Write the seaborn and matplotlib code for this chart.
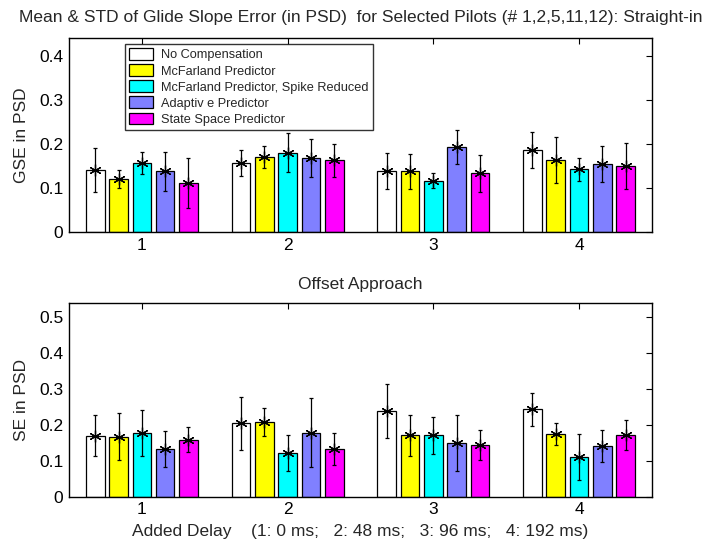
import numpy as np
import pandas as pd
import matplotlib
matplotlib.use("Agg")
import matplotlib.pyplot as plt
import seaborn as sns

groups = ["1", "2", "3", "4"]
methods = ["No Compensation", "McFarland Predictor", "McFarland Predictor, Spike Reduced",
           "Adaptiv e Predictor", "State Space Predictor"]
colors = ["#ffffff", "#ffff00", "#00ffff", "#8080ff", "#ff00ff"]

# Straight-in (rows: methods, cols: delay groups)
si_mean = [[0.141, 0.157, 0.138, 0.187],
           [0.121, 0.171, 0.138, 0.163],
           [0.156, 0.180, 0.117, 0.142],
           [0.138, 0.168, 0.193, 0.154],
           [0.111, 0.163, 0.133, 0.150]]
si_std = [[0.050, 0.030, 0.041, 0.041],
          [0.020, 0.025, 0.040, 0.052],
          [0.025, 0.044, 0.018, 0.027],
          [0.044, 0.044, 0.038, 0.041],
          [0.057, 0.038, 0.041, 0.053]]
# Offset approach
of_mean = [[0.170, 0.204, 0.238, 0.243],
           [0.167, 0.208, 0.171, 0.175],
           [0.178, 0.122, 0.171, 0.111],
           [0.133, 0.178, 0.149, 0.141],
           [0.159, 0.133, 0.145, 0.171]]
of_std = [[0.058, 0.073, 0.075, 0.045],
          [0.065, 0.038, 0.057, 0.030],
          [0.064, 0.050, 0.051, 0.064],
          [0.050, 0.096, 0.078, 0.045],
          [0.034, 0.044, 0.042, 0.042]]

sns.set_style("white")
plt.rcParams["font.family"] = ["Liberation Sans", "DejaVu Sans"]

FS = 12.5

fig = plt.figure(figsize=(7.11, 5.46), dpi=100)
ax1 = fig.add_axes([0.097, 0.575, 0.820, 0.355])
ax2 = fig.add_axes([0.097, 0.0903, 0.820, 0.355])


def draw(ax, mean, std, ymax, yticks, ylabel, legend):
    rows = []
    for mi, m in enumerate(methods):
        for gi, g in enumerate(groups):
            rows.append({"group": g, "method": m, "value": mean[mi][gi]})
    df = pd.DataFrame(rows)
    sns.barplot(data=df, x="group", y="value", hue="method", hue_order=methods,
                order=groups, palette=colors, width=0.8, gap=0.2, errorbar=None,
                edgecolor="black", linewidth=0.9, saturation=1, ax=ax, legend=legend)
    bar_conts = list(ax.containers)
    for mi, cont in enumerate(bar_conts):
        for gi, patch in enumerate(cont.patches):
            xc = patch.get_x() + patch.get_width() / 2
            h = patch.get_height()
            ax.errorbar(xc, h, yerr=std[mi][gi], fmt="none", ecolor="black",
                        elinewidth=0.9, capsize=1.2, capthick=0.9, zorder=3)
            ax.plot(xc, h, marker=(6, 2, 0), color="black", markersize=8.5,
                    markeredgewidth=0.9, zorder=4)
    ax.set_xlim(-0.5, 3.5)
    ax.set_ylim(0, ymax)
    ax.set_yticks(yticks)
    ax.set_yticklabels(["0" if t == 0 else f"{t:.1f}" for t in yticks])
    ax.set_ylabel(ylabel, fontsize=FS, labelpad=7)
    ax.set_xlabel("")
    ax.tick_params(direction="in", top=True, right=True, length=4.5, width=0.8,
                   labelsize=FS, colors="black", pad=4)
    for s in ax.spines.values():
        s.set_color("black")
        s.set_linewidth(1.0)


draw(ax1, si_mean, si_std, 0.44, [0, 0.1, 0.2, 0.3, 0.4], "GSE in PSD", True)
draw(ax2, of_mean, of_std, 0.54, [0, 0.1, 0.2, 0.3, 0.4, 0.5], "SE in PSD", False)

leg = ax1.legend(loc="upper left", bbox_to_anchor=(0.096, 0.972), fontsize=9.2,
                 frameon=True, fancybox=False, handlelength=1.85, handleheight=1.05,
                 labelspacing=0.22, borderpad=0.35, borderaxespad=0, handletextpad=0.6)
leg.get_frame().set_edgecolor("black")
leg.get_frame().set_linewidth(1.0)

ax1.set_title("Mean & STD of Glide Slope Error (in PSD)  for Selected Pilots (# 1,2,5,11,12): Straight-in",
              fontsize=FS, pad=11.5)
ax2.set_title("Offset Approach", fontsize=FS, pad=10)
ax2.set_xlabel("Added Delay    (1: 0 ms;   2: 48 ms;   3: 96 ms;   4: 192 ms)", fontsize=FS, labelpad=5)

fig.savefig("out.png", dpi=100, facecolor="white")
